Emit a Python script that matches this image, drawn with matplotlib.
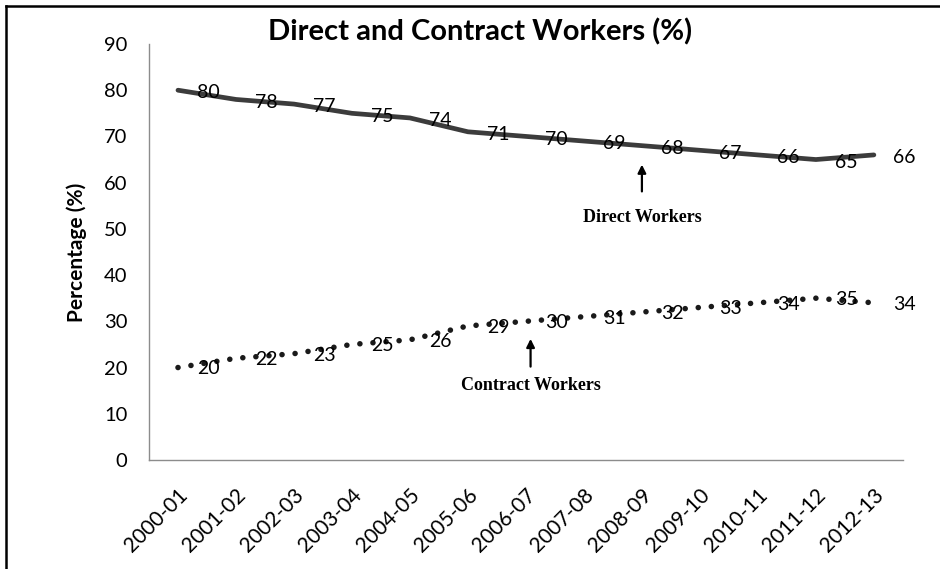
import matplotlib.pyplot as plt
from matplotlib.lines import Line2D

anos = ["2000-01", "2001-02", "2002-03", "2003-04", "2004-05", "2005-06", "2006-07",
        "2007-08", "2008-09", "2009-10", "2010-11", "2011-12", "2012-13"]
diretos = [80, 78, 77, 75, 74, 71, 70, 69, 68, 67, 66, 65, 66]
contratados = [20, 22, 23, 25, 26, 29, 30, 31, 32, 33, 34, 35, 34]

plt.rcParams['font.family'] = ['Lato', 'DejaVu Sans']

fig = plt.figure(figsize=(9.4, 5.69), dpi=100, facecolor='white')
ax = fig.add_axes([0.1585, 0.1916, 0.802, 0.7311])

x = list(range(len(anos)))

ax.plot(x, diretos, color='#3c3c3c', linewidth=3.4, solid_capstyle='round', zorder=3)
ax.plot(x, contratados, color='#1a1a1a', linewidth=4.0, linestyle=(0, (0.01, 2.35)),
        dash_capstyle='round', zorder=3)

# rótulos de valor à direita de cada ponto
for xi, d, c in zip(x, diretos, contratados):
    ax.annotate(str(d), (xi, d), xytext=(14, -2), textcoords='offset points',
                ha='left', va='center', fontsize=14, color='black', zorder=4)
    ax.annotate(str(c), (xi, c), xytext=(14, -1), textcoords='offset points',
                ha='left', va='center', fontsize=14, color='black', zorder=4)

ax.set_xlim(-0.5, len(anos) - 0.5)
ax.set_ylim(0, 90)
ax.set_yticks(range(0, 91, 10))
ax.set_xticks(x)
ax.set_xticklabels(anos, rotation=45, ha='right', rotation_mode='anchor')
ax.tick_params(axis='both', length=0)
ax.tick_params(axis='y', pad=15.5, labelsize=14.5)
ax.tick_params(axis='x', pad=18, labelsize=15)

for lado in ['top', 'right']:
    ax.spines[lado].set_visible(False)
for lado in ['left', 'bottom']:
    ax.spines[lado].set_color('#8c8c8c')
    ax.spines[lado].set_linewidth(1.0)

ax.set_ylabel("Percentage (%)", fontsize=15, fontweight='bold', labelpad=12)
fig.text(0.511, 0.944, "Direct and Contract Workers (%)", ha='center', va='center',
         fontsize=21, fontweight='bold')

# setas indicando cada série
ax.annotate("", xy=(8.0, 64.5), xytext=(8.0, 57.5),
            arrowprops=dict(arrowstyle='-|>', color='black', lw=1.6, mutation_scale=12))
ax.text(8.0, 52.4, "Direct Workers", ha='center', va='center', fontsize=13,
        fontweight='bold', family='Liberation Serif')
ax.annotate("", xy=(6.08, 26.8), xytext=(6.08, 19.6),
            arrowprops=dict(arrowstyle='-|>', color='black', lw=1.6, mutation_scale=12))
ax.text(6.08, 16.2, "Contract Workers", ha='center', va='center', fontsize=13,
        fontweight='bold', family='Liberation Serif')

# moldura esquerda e superior
fig.add_artist(Line2D([0.0064, 0.0064], [0, 0.989], transform=fig.transFigure,
                      color='black', linewidth=1.8))
fig.add_artist(Line2D([0.0064, 1.0], [0.989, 0.989], transform=fig.transFigure,
                      color='black', linewidth=1.8))

fig.savefig('out.png', dpi=100, facecolor='white')
